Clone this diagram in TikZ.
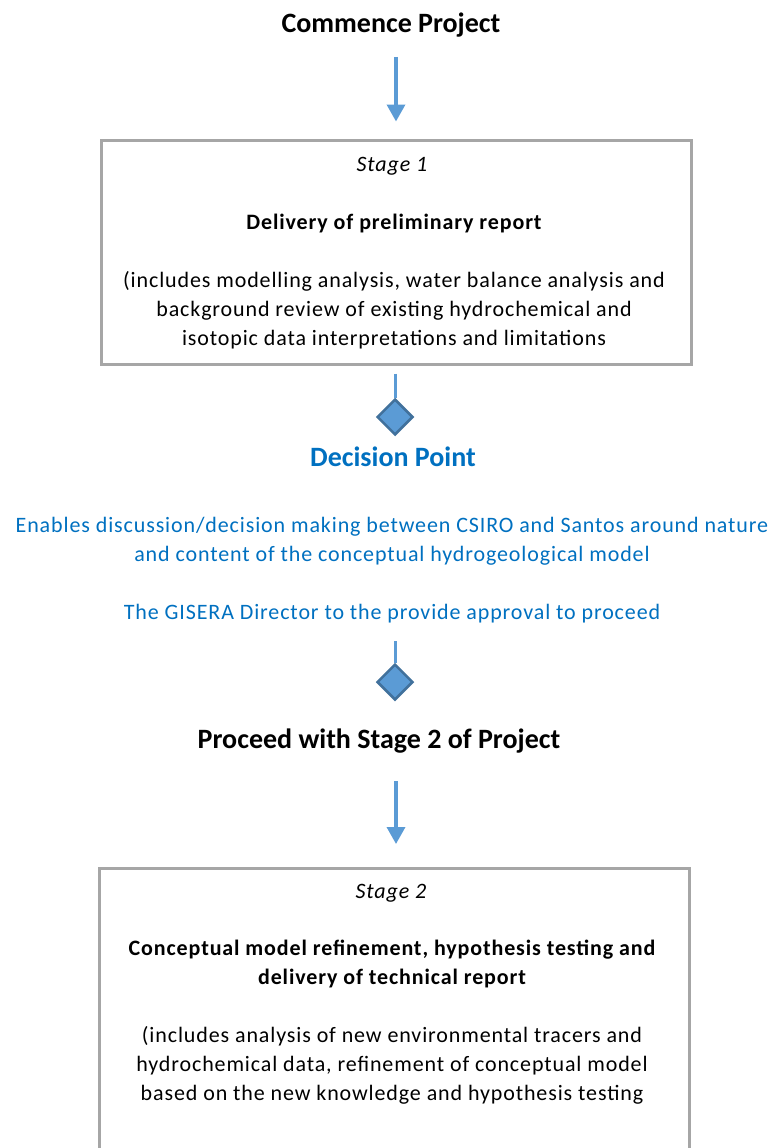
\documentclass[tikz,border=0pt]{standalone}
\usepackage{fontspec}
\setmainfont{Carlito}
\newfontfamily\spaced[LetterSpace=4]{Carlito}
\usetikzlibrary{arrows.meta,shapes.geometric,positioning}
\definecolor{flowblue}{HTML}{5B9BD5}
\definecolor{flowedge}{HTML}{41719C}
\definecolor{texblue}{HTML}{0070C0}
\definecolor{boxgray}{HTML}{A6A6A6}
\begin{document}
\begin{tikzpicture}[x=1pt,y=-1pt,
stagebox/.style={draw=boxgray,line width=3pt,minimum width=590pt,inner sep=0pt},
flow/.style={draw=flowblue,line width=3.5pt,-{Triangle[width=18pt,length=17pt]}},
stem/.style={draw=flowblue,line width=3pt},
decision/.style={diamond,fill=flowblue,draw=flowedge,line width=2.5pt,minimum size=36pt,inner sep=0pt},
heading/.style={font=\fontsize{28}{32}\selectfont\bfseries},
body/.style={font=\fontsize{22}{29}\selectfont\spaced,align=center},
note/.style={body,text=texblue}]
\useasboundingbox (0,0) rectangle (777,1148);

% start
\node (Start) [heading] at (391,25) {Commence Project};
\coordinate (StartEnd) at (396,57);
\node (Box1) [stagebox,minimum height=224pt] at (396,252) {};
\draw [flow,shorten >=17pt] (StartEnd) -- (StartEnd |- Box1.north);

\node (S1) [body] at (392,166) {\itshape Stage 1};
\node (S1head) [body] at (394,224) {\bfseries Delivery of preliminary report};
\node (S1text) [body] at (394,310) {(includes modelling analysis, water balance analysis and\\
background review of existing hydrochemical and\\
isotopic data interpretations and limitations};

% decision
\node (D1) [decision] at (395,417) {};
\draw [stem,shorten <=8pt] (Box1.south -| D1.north) -- (D1.north);
\node (Dec) [heading,text=texblue] at (393,457) {Decision Point};
\node (Talk) [note] at (392,541) {Enables discussion/decision making between CSIRO and Santos around nature\\
and content of the conceptual hydrogeological model};
\node (Ok) [note] at (392,614) {The GISERA Director to the provide approval to proceed};
\node (D2) [decision] at (395,682) {};
\coordinate (OkEnd) at (395,641);
\draw [stem] (OkEnd) -- (D2.north);

% stage 2
\node (Go) [heading] at (379,741) {Proceed with Stage 2 of Project};
\coordinate (GoEnd) at (396,781);
\node (Box2) [stagebox,minimum height=340pt,anchor=north] at (394,867) {};
\draw [flow,shorten >=23pt] (GoEnd) -- (GoEnd |- Box2.north);

\node (S2) [body] at (391,893) {\itshape Stage 2};
\node (S2head) [body] at (392,964) {\bfseries Conceptual model refinement, hypothesis testing and\\
\bfseries delivery of technical report};
\node (S2text) [body] at (392,1065) {(includes analysis of new environmental tracers and\\
hydrochemical data, refinement of conceptual model\\
based on the new knowledge and hypothesis testing};
\end{tikzpicture}
\end{document}
